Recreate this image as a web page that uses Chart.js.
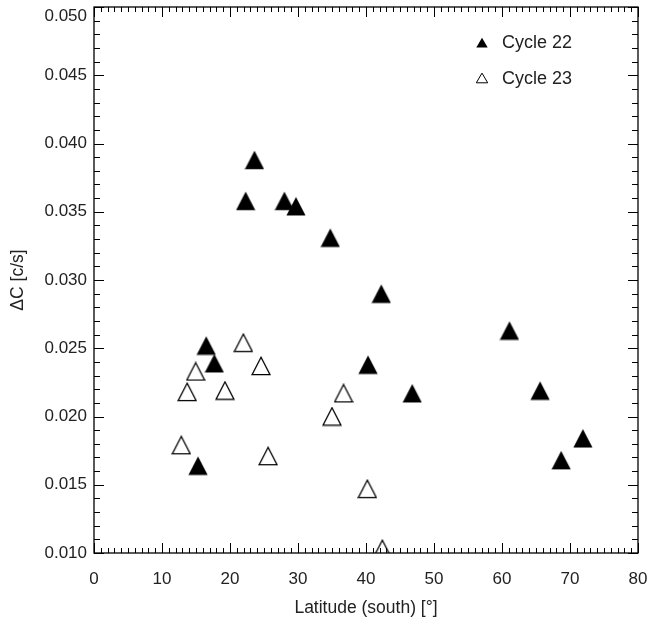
<!DOCTYPE html>
<html><head><meta charset="utf-8">
<script src="https://cdn.jsdelivr.net/npm/chart.js@4/dist/chart.umd.min.js"></script>
<style>html,body{margin:0;padding:0;background:#fff;}</style>
</head><body>
<canvas id="c" width="650" height="619" style="width:650px;height:619px;display:block"></canvas>
<script>
// ---- data ----
const cycle22Lat = [23.6, 22.3, 28.0, 29.7, 34.75, 16.5, 17.7, 15.3, 42.25, 40.3, 46.8, 61.1, 65.6, 71.9, 68.7];
const cycle22DC  = [0.0388, 0.0358, 0.0358, 0.0354, 0.0331, 0.0252, 0.0239, 0.0164, 0.0290, 0.0238, 0.0217, 0.0263, 0.0219, 0.0184, 0.0168];
const cycle23Lat = [21.96, 24.56, 14.95, 13.7, 19.26, 12.84, 25.6, 36.7, 35.0, 40.2, 42.4];
const cycle23DC  = [0.0254, 0.0237, 0.0233, 0.0218, 0.0219, 0.0179, 0.0171, 0.0217, 0.0200, 0.0147, 0.0103];
const seriesNames = ['Cycle 22', 'Cycle 23'];
const xTicks = [0, 10, 20, 30, 40, 50, 60, 70, 80];
const yTicks = [0.010, 0.015, 0.020, 0.025, 0.030, 0.035, 0.040, 0.045, 0.050];
const xTitle = 'Latitude (south) [°]';
const yTitle = 'ΔC [c/s]';

const FONT = '"Liberation Sans", Arial, Helvetica, sans-serif';
const TXT = '#222';

function triImage(filled) {
  const c = document.createElement('canvas');
  c.width = 20; c.height = 20;
  const g = c.getContext('2d');
  g.beginPath();
  if (filled) {
    g.moveTo(10, 0.8); g.lineTo(19.6, 19.2); g.lineTo(0.4, 19.2);
    g.closePath(); g.fillStyle = '#000'; g.fill();
  } else {
    g.moveTo(10, 1.3); g.lineTo(19.0, 18.7); g.lineTo(1.0, 18.7);
    g.closePath(); g.lineWidth = 1.3; g.strokeStyle = '#000'; g.stroke();
  }
  return c;
}
const filledTri = triImage(true);
const openTri = triImage(false);

const toPts = (xs, ys) => xs.map((x, i) => ({x: x, y: ys[i]}));

const tickPlugin = {
  id: 'idlTicks',
  afterDatasetsDraw(chart) {
    const ctx = chart.ctx, a = chart.chartArea;
    const xs = chart.scales.x, ys = chart.scales.y;
    ctx.save();
    ctx.strokeStyle = '#000'; ctx.lineWidth = 1;
    ctx.beginPath();
    for (let v = xTicks[0]; v <= xTicks[xTicks.length - 1]; v += 1) {
      const px = Math.round(xs.getPixelForValue(v)) + 0.5;
      const L = (v % 10 === 0) ? 10 : 5;
      ctx.moveTo(px, a.bottom); ctx.lineTo(px, a.bottom - L);
      ctx.moveTo(px, a.top); ctx.lineTo(px, a.top + L);
    }
    for (let i = 0; i <= 40; i++) {
      const v = yTicks[0] + i * 0.001;
      const py = Math.round(ys.getPixelForValue(v)) + 0.5;
      const L = (i % 5 === 0) ? 10 : 6;
      ctx.moveTo(a.left, py); ctx.lineTo(a.left + L, py);
      ctx.moveTo(a.right, py); ctx.lineTo(a.right - L, py);
    }
    ctx.stroke();
    // box
    ctx.lineWidth = 1.3;
    ctx.strokeRect(a.left, a.top, a.right - a.left, a.bottom - a.top);
    // legend
    const lx = 482, ly = [43.3, 78.6];
    ctx.font = '18px ' + FONT; ctx.textBaseline = 'middle'; ctx.textAlign = 'left';
    seriesNames.forEach((name, i) => {
      const cy = ly[i];
      ctx.beginPath();
      ctx.moveTo(lx, cy - 5.5); ctx.lineTo(lx + 5.7, cy + 4.2); ctx.lineTo(lx - 5.7, cy + 4.2); ctx.closePath();
      if (i === 0) { ctx.fillStyle = '#000'; ctx.fill(); }
      else { ctx.lineWidth = 1; ctx.strokeStyle = '#000'; ctx.stroke(); }
      ctx.fillStyle = TXT;
      ctx.fillText(name, 502, cy);
    });
    ctx.restore();
  }
};

new Chart(document.getElementById('c'), {
  type: 'scatter',
  data: {
    datasets: [
      { label: seriesNames[0], data: toPts(cycle22Lat, cycle22DC), pointStyle: filledTri, clip: 0 },
      { label: seriesNames[1], data: toPts(cycle23Lat, cycle23DC), pointStyle: openTri, clip: 0 }
    ]
  },
  options: {
    responsive: false, animation: false, devicePixelRatio: 1,
    layout: { padding: { left: 0, top: 7, right: 12, bottom: 0 } },
    plugins: { legend: { display: false }, tooltip: { enabled: false } },
    scales: {
      x: {
        type: 'linear', min: 0, max: 80, position: 'bottom',
        grid: { display: false, drawTicks: false },
        border: { display: false },
        afterBuildTicks: s => { s.ticks = xTicks.map(v => ({value: v})); },
        afterFit: s => { s.height = 66; s.paddingLeft = 0; s.paddingRight = 0; s.paddingTop = 0; s.paddingBottom = 0; },
        ticks: { padding: 16, color: TXT, font: { family: FONT, size: 17 } },
        title: { display: true, text: xTitle, color: TXT, font: { family: FONT, size: 17.5 }, padding: { top: -3, bottom: 0 } }
      },
      y: {
        type: 'linear', min: 0.010, max: 0.050, position: 'left',
        grid: { display: false, drawTicks: false },
        border: { display: false },
        afterBuildTicks: s => { s.ticks = yTicks.map(v => ({value: v})); },
        afterFit: s => { s.width = 94; s.paddingLeft = 0; s.paddingRight = 0; s.paddingTop = 0; s.paddingBottom = 0; },
        ticks: {
          padding: 7, color: TXT, font: { family: FONT, size: 17, lineHeight: 1.05 },
          callback: v => (Math.abs(v - 0.05) < 1e-9) ? ['', v.toFixed(3)] : v.toFixed(3)
        },
        title: { display: true, text: yTitle, color: TXT, font: { family: FONT, size: 17.5 }, padding: { top: 8, bottom: 0 } }
      }
    }
  },
  plugins: [tickPlugin]
});
</script>
</body></html>
